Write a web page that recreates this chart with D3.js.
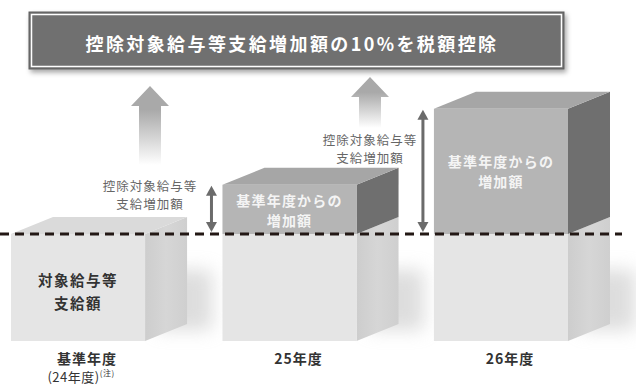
<!DOCTYPE html>
<html>
<head>
<meta charset="utf-8">
<script src="https://d3js.org/d3.v7.min.js"></script>
<style>
  body { margin: 0; background: #fff; }
  text { font-family: "Noto Sans CJK JP", "Noto Sans", sans-serif; }
</style>
</head>
<body>
<svg id="chart" width="636" height="385"></svg>
<script>
// data
var categories = ["基準年度", "25年度", "26年度"];
var subLabels = ["(24年度)", "", ""];
var baseValues = [100, 100, 100];
var increaseValues = [0, 46, 117];
var baseText = ["対象給与等", "支給額"];
var increaseText = ["基準年度からの", "増加額"];
var arrowText = ["控除対象給与等", "支給増加額"];
var title = "控除対象給与等支給増加額の10%を税額控除";

var svg = d3.select("#chart");
var defs = svg.append("defs");

// scales
var x = d3.scaleBand().domain(categories).range([11, 568]).paddingInner(0.366).paddingOuter(0);
var y = d3.scaleLinear().domain([0, 220]).range([341, 341 - 220 * 1.07]);
var bw = x.bandwidth();
var dx = 42, dy = -17;

// filters / gradients
var blur = defs.append("filter").attr("id", "blur").attr("x", "-50%").attr("y", "-50%").attr("width", "200%").attr("height", "200%");
blur.append("feGaussianBlur").attr("stdDeviation", 9);

var ts = defs.append("filter").attr("id", "tshadow").attr("x", "-10%").attr("y", "-30%").attr("width", "120%").attr("height", "160%");
ts.append("feDropShadow").attr("dx", 2).attr("dy", 3).attr("stdDeviation", 2.5).attr("flood-color", "#000").attr("flood-opacity", 0.35);

var ag = defs.append("linearGradient").attr("id", "arrowGrad").attr("x1", 0).attr("y1", 0).attr("x2", 0).attr("y2", 1);
ag.append("stop").attr("offset", "0.3").attr("stop-color", "#a9a9a9");
ag.append("stop").attr("offset", "1").attr("stop-color", "#ffffff");

var sg = defs.append("linearGradient").attr("id", "sideGrad").attr("x1", 0).attr("y1", 0).attr("x2", 1).attr("y2", 0);
sg.append("stop").attr("offset", "0").attr("stop-color", "#cdcdcd");
sg.append("stop").attr("offset", "0.5").attr("stop-color", "#d6d6d6");
sg.append("stop").attr("offset", "1").attr("stop-color", "#cfcfcf");

// title box
var tg = svg.append("g");
tg.append("rect").attr("x", 29).attr("y", 12).attr("width", 535).attr("height", 57)
  .attr("fill", "#6f6f6f").attr("stroke", "#5e5e5e").attr("stroke-width", 1).attr("filter", "url(#tshadow)");
tg.append("rect").attr("x", 31.5).attr("y", 14.5).attr("width", 530).attr("height", 52)
  .attr("fill", "none").attr("stroke", "#fff").attr("stroke-width", 1.5);
tg.append("text").attr("x", 292).attr("y", 43).attr("text-anchor", "middle").attr("dominant-baseline", "central")
  .attr("fill", "#fff").attr("font-size", 18).attr("font-weight", "bold").attr("letter-spacing", 2.4)
  .text(title);

// floor shadows
categories.forEach(function(c, i) {
  var x0 = x(c) + bw + dx;
  svg.append("rect").attr("x", x0 - 30).attr("y", 270).attr("width", 55).attr("height", 60)
    .attr("fill", "#bcbcbc").attr("opacity", 0.5).attr("filter", "url(#blur)");
});

// big arrows
var bigArrows = [{x: 150, top: 86, bottom: 165}, {x: 370, top: 77, bottom: 128}];
bigArrows.forEach(function(a) {
  var p = d3.path();
  p.moveTo(a.x, a.top);
  p.lineTo(a.x + 19, a.top + 20);
  p.lineTo(a.x + 11, a.top + 20);
  p.lineTo(a.x + 11, a.bottom);
  p.lineTo(a.x - 11, a.bottom);
  p.lineTo(a.x - 11, a.top + 20);
  p.lineTo(a.x - 19, a.top + 20);
  p.closePath();
  svg.append("path").attr("d", p.toString()).attr("fill", "url(#arrowGrad)");
});

// boxes
function poly(pts) { return pts.map(function(p) { return p.join(","); }).join(" "); }

var boxes = svg.append("g");
categories.forEach(function(c, i) {
  var x0 = x(c), x1 = x0 + bw;
  var yb = y(0), ym = y(baseValues[i]), yt = y(baseValues[i] + increaseValues[i]);
  var g = boxes.append("g");
  // lower part
  g.append("polygon").attr("points", poly([[x1, ym], [x1 + dx, ym + dy], [x1 + dx, yb + dy], [x1, yb]]))
    .attr("fill", "url(#sideGrad)");
  g.append("rect").attr("x", x0).attr("y", ym).attr("width", bw).attr("height", yb - ym).attr("fill", "#e5e5e5");
  if (increaseValues[i] > 0) {
    g.append("polygon").attr("points", poly([[x1, yt], [x1 + dx, yt + dy], [x1 + dx, ym + dy], [x1, ym]]))
      .attr("fill", "#6f6f6f");
    g.append("rect").attr("x", x0).attr("y", yt).attr("width", bw).attr("height", ym - yt).attr("fill", "#b5b5b5");
    g.append("polygon").attr("points", poly([[x0, yt], [x0 + dx, yt + dy], [x1 + dx, yt + dy], [x1, yt]]))
      .attr("fill", "#a6a6a6");
    var cy = (i === 1) ? yt + 25 : (yt + ym) / 2;
    increaseText.forEach(function(t, k) {
      g.append("text").attr("x", x0 + bw / 2).attr("y", cy + (k - 0.5) * 20)
        .attr("text-anchor", "middle").attr("dominant-baseline", "central")
        .attr("fill", "#f4f4f4").attr("font-size", 14).attr("font-weight", "bold").attr("letter-spacing", 1.2)
        .text(t);
    });
  } else {
    g.append("polygon").attr("points", poly([[x0, ym], [x0 + dx, ym + dy], [x1 + dx, ym + dy], [x1, ym]]))
      .attr("fill", "#dadada");
    baseText.forEach(function(t, k) {
      g.append("text").attr("x", x0 + bw / 2).attr("y", (ym + yb) / 2 + 3 + (k - 0.5) * 23)
        .attr("text-anchor", "middle").attr("dominant-baseline", "central")
        .attr("fill", "#333").attr("font-size", 14.5).attr("font-weight", "bold").attr("letter-spacing", 1.5)
        .text(t);
    });
  }
});

// dashed baseline
svg.append("line").attr("x1", 0).attr("x2", 622).attr("y1", y(100)).attr("y2", y(100))
  .attr("stroke", "#231815").attr("stroke-width", 3).attr("stroke-dasharray", "9,6");

// double arrows with labels
var labelY = [185, 139];
[1, 2].forEach(function(i, k) {
  var c = categories[i];
  var ax = x(c) - 11;
  var top = y(baseValues[i] + increaseValues[i]) + 1, bot = y(baseValues[i]) - 2;
  var g = svg.append("g").attr("fill", "#6b6b6b");
  g.append("rect").attr("x", ax - 1.5).attr("y", top + 8).attr("width", 3).attr("height", bot - top - 16);
  g.append("polygon").attr("points", poly([[ax, top], [ax + 5.5, top + 10], [ax - 5.5, top + 10]]));
  g.append("polygon").attr("points", poly([[ax, bot], [ax + 5.5, bot - 10], [ax - 5.5, bot - 10]]));
  var lx = bigArrows[k].x;
  arrowText.forEach(function(t, j) {
    svg.append("text").attr("x", lx).attr("y", labelY[k] + j * 18)
      .attr("text-anchor", "middle").attr("dominant-baseline", "central")
      .attr("fill", "#666").attr("font-size", 12.5).attr("letter-spacing", 1)
      .text(t);
  });
});

// category labels
categories.forEach(function(c, i) {
  var cx = x(c) + bw / 2 + 9;
  svg.append("text").attr("x", cx).attr("y", 358).attr("text-anchor", "middle").attr("dominant-baseline", "central")
    .attr("fill", "#333").attr("font-size", 14).attr("font-weight", "bold").attr("letter-spacing", 1)
    .text(c);
  if (subLabels[i]) {
    var t = svg.append("text").attr("x", cx - 6).attr("y", 376).attr("text-anchor", "middle").attr("dominant-baseline", "central")
      .attr("fill", "#333").attr("font-size", 13).attr("letter-spacing", 0.5);
    t.append("tspan").text(subLabels[i]);
    t.append("tspan").attr("font-size", 8).attr("dy", -4).text("(注)");
  }
});
</script>
</body>
</html>
